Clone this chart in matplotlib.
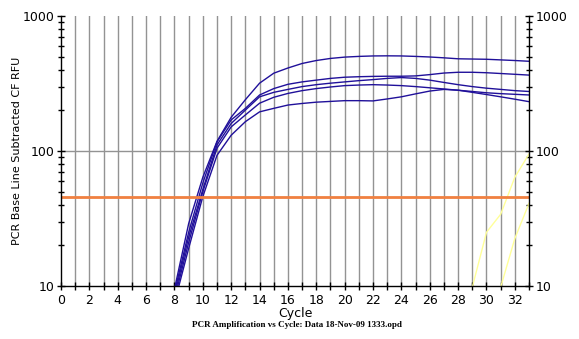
import matplotlib
matplotlib.use("Agg")
import matplotlib.pyplot as plt
from matplotlib.ticker import NullFormatter

# cycles with data for the amplified wells
cycles = list(range(8, 34))

wellA = [9.5, 29, 64, 118, 178, 240, 318, 377, 412, 445, 468, 485, 496, 502, 506, 507,
         506, 502, 497, 490, 482, 480, 478, 473, 468, 462]
wellB = [9.0, 25, 58, 117, 170, 207, 260, 290, 312, 325, 335, 345, 352, 355, 357, 358,
         358, 360, 368, 378, 383, 383, 380, 375, 370, 365]
wellC = [8.5, 23, 52, 111, 160, 201, 252, 272, 286, 300, 310, 318, 325, 332, 338, 345,
         350, 345, 335, 322, 310, 300, 292, 286, 280, 276]
wellD = [8.0, 21, 50, 105, 151, 185, 226, 250, 267, 280, 290, 298, 305, 308, 310, 308,
         305, 300, 294, 288, 282, 276, 270, 266, 263, 260]
wellE = [7.5, 19, 46, 93, 131, 165, 195, 207, 219, 225, 230, 233, 236, 236, 235, 243,
         252, 265, 278, 286, 282, 272, 262, 252, 242, 232]

# late, faint wells
late_cycles1 = [29, 30, 31, 32, 33]
late_well1 = [9.8, 25, 34, 64, 95]
late_cycles2 = [31, 32, 33]
late_well2 = [9.8, 22.5, 41]

threshold = 45.5

fig = plt.figure(figsize=(5.79, 3.39), dpi=100)
ax = fig.add_axes([0.1054, 0.1563, 0.8083, 0.7965])

# grid lines first so curves sit on top
for c in range(1, 33):
    ax.axvline(c, color="#939393", linewidth=1.0, zorder=1)
ax.axhline(100, color="#939393", linewidth=1.0, zorder=1)

blue = "#20109a"
for w in [wellA, wellB, wellC, wellD, wellE]:
    ax.plot(cycles, w, color=blue, linewidth=1.0, zorder=3)

ax.plot(late_cycles1, late_well1, color="#ffff99", linewidth=1.0, zorder=2)
ax.plot(late_cycles2, late_well2, color="#ffff99", linewidth=1.0, zorder=2)

ax.axhline(threshold, color="#f08040", linewidth=2.0, zorder=4)

ax.set_yscale("log")
ax.set_xlim(0, 33)
ax.set_ylim(10, 1000)

ax.set_xticks(range(0, 34))
ax.set_xticklabels([str(c) if c % 2 == 0 else "" for c in range(0, 34)])
ax.set_yticks([10, 100, 1000])
ax.set_yticklabels(["10", "100", "1000"])
ax.yaxis.set_minor_formatter(NullFormatter())

ax.yaxis.set_ticks_position("both")
ax.tick_params(axis="y", which="both", labelright=True, direction="inout", labelsize=9, pad=2)
ax.tick_params(axis="y", which="major", length=6, width=1)
ax.tick_params(axis="y", which="minor", length=4, width=1)
ax.tick_params(axis="x", direction="inout", length=6, width=1, labelsize=9, pad=3)

ax.spines["top"].set_visible(False)
for s in ["left", "right", "bottom"]:
    ax.spines[s].set_color("black")
    ax.spines[s].set_linewidth(1.0)
    ax.spines[s].set_zorder(5)

ax.set_ylabel("PCR Base Line Subtracted CF RFU", fontsize=8)
ax.yaxis.set_label_coords(-0.083, 0.5)
ax.set_xlabel("Cycle", fontsize=9, labelpad=0)

fig.text(0.513, 0.04, "PCR Amplification vs Cycle: Data 18-Nov-09 1333.opd",
         ha="center", va="center", fontsize=6.5, family="Liberation Serif", weight="bold")

fig.savefig("out.png", dpi=100)
